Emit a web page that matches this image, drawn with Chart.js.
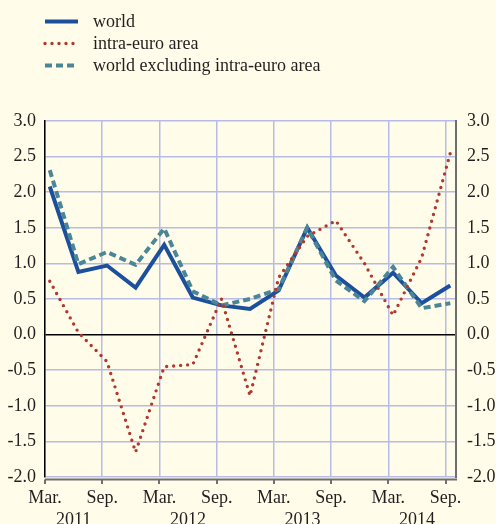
<!DOCTYPE html>
<html>
<head>
<meta charset="utf-8">
<script src="https://cdn.jsdelivr.net/npm/chart.js@4/dist/chart.umd.min.js"></script>
<style>
  html, body { margin: 0; padding: 0; background: #fffdea; }
  #wrap { width: 496px; height: 524px; }
</style>
</head>
<body>
<div id="wrap"><canvas id="chart" width="496" height="524"></canvas></div>
<script>
// quarterly observations, end-of-quarter month
const quarters = ['2011-03', '2011-06', '2011-09', '2011-12',
                  '2012-03', '2012-06', '2012-09', '2012-12',
                  '2013-03', '2013-06', '2013-09', '2013-12',
                  '2014-03', '2014-06', '2014-09'];

const world       = [2.08, 0.88, 0.97, 0.66, 1.26, 0.52, 0.41, 0.36, 0.62, 1.50, 0.83, 0.52, 0.87, 0.44, 0.69];
const intraEuro   = [0.75, 0.03, -0.38, -1.65, -0.45, -0.42, 0.50, -0.86, 0.80, 1.38, 1.60, 1.00, 0.27, 1.08, 2.55];
const worldExEuro = [2.31, 0.99, 1.16, 0.98, 1.49, 0.61, 0.41, 0.50, 0.64, 1.50, 0.76, 0.47, 0.95, 0.37, 0.44];

const xTickMonths = ['2011-03', '2011-09', '2012-03', '2012-09', '2013-03', '2013-09', '2014-03', '2014-09'];
const years = ['2011', '2012', '2013', '2014'];
const yTicks = [3.0, 2.5, 2.0, 1.5, 1.0, 0.5, 0.0, -0.5, -1.0, -1.5, -2.0];

const seriesNames = ['world', 'intra-euro area', 'world excluding intra-euro area'];

const BG = '#fffdea';
const INK = '#231f20';
const GRID = '#b7bce6';
const BLUE = '#1c4f9c';
const RED = '#b2372d';
const TEAL = '#4b8697';
const FONT = '"Liberation Serif", "DejaVu Serif", serif';
const FSIZE = 18;

// months since Jan 2011
const monthOf = s => { const [y, m] = s.split('-').map(Number); return (y - 2011) * 12 + (m - 1); };
const pts = vals => vals.map((v, i) => ({ x: monthOf(quarters[i]) + 0.5, y: v }));

const decor = {
  id: 'decor',
  beforeDraw(chart) {
    const c = chart.ctx;
    c.save();
    c.fillStyle = BG;
    c.fillRect(0, 0, chart.width, chart.height);
    c.restore();
  },
  afterDraw(chart) {
    const c = chart.ctx, a = chart.chartArea, xs = chart.scales.x;
    c.save();
    // bottom axis with down ticks
    c.strokeStyle = '#6f6f6f';
    c.lineWidth = 2;
    c.beginPath();
    c.moveTo(a.left, a.bottom + 2.5);
    c.lineTo(a.right + 1, a.bottom + 2.5);
    xTickMonths.forEach(m => {
      const px = Math.round(xs.getPixelForValue(monthOf(m)));
      c.moveTo(px, a.bottom + 2.5);
      c.lineTo(px, a.bottom + 7);
    });
    c.stroke();

    // year labels centred between Mar. and Sep.
    c.fillStyle = INK;
    c.font = FSIZE + 'px ' + FONT;
    c.textAlign = 'center';
    c.textBaseline = 'alphabetic';
    years.forEach(y => {
      const mid = (xs.getPixelForValue(monthOf(y + '-03')) + xs.getPixelForValue(monthOf(y + '-09'))) / 2;
      c.fillText(y, mid, 525);
    });

    // legend
    const rows = [27, 49, 71];
    chart.data.datasets.forEach((ds, i) => {
      const ly = rows[i] - 5.5;
      c.strokeStyle = ds.borderColor;
      c.lineWidth = ds.borderWidth;
      c.lineCap = ds.borderCapStyle || 'butt';
      c.setLineDash(ds.borderDash || []);
      c.beginPath();
      c.moveTo(45, ly);
      c.lineTo(78, ly);
      c.stroke();
      c.setLineDash([]);
      c.textAlign = 'left';
      c.fillText(seriesNames[i], 93, rows[i]);
    });
    c.restore();
  }
};

const yCommon = {
  type: 'linear',
  min: -2,
  max: 3,
  afterBuildTicks: s => { s.ticks = yTicks.map(v => ({ value: v })); },
  ticks: {
    color: INK,
    font: { family: FONT, size: FSIZE },
    callback: v => v.toFixed(1),
  },
};

new Chart(document.getElementById('chart'), {
  type: 'line',
  data: {
    datasets: [
      {
        label: seriesNames[0], data: pts(world),
        borderColor: BLUE, borderWidth: 4, borderJoinStyle: 'miter',
        pointRadius: 0, tension: 0, order: 3,
      },
      {
        label: seriesNames[1], data: pts(intraEuro),
        borderColor: RED, borderWidth: 3.4, borderDash: [0, 7], borderCapStyle: 'round',
        pointRadius: 0, tension: 0, order: 1,
      },
      {
        label: seriesNames[2], data: pts(worldExEuro),
        borderColor: TEAL, borderWidth: 4, borderDash: [7, 4],
        pointRadius: 0, tension: 0, order: 2,
      },
    ],
  },
  options: {
    responsive: false,
    animation: false,
    layout: { padding: { top: 121 } },
    plugins: { legend: { display: false }, tooltip: { enabled: false } },
    scales: {
      x: {
        type: 'linear',
        min: 2,
        max: 45.1,
        afterBuildTicks: s => { s.ticks = xTickMonths.map(m => ({ value: monthOf(m) })); },
        afterFit: s => { s.height = 47; },
        grid: { color: GRID, lineWidth: 1.5, drawTicks: false },
        border: { display: false },
        ticks: {
          color: INK,
          font: { family: FONT, size: FSIZE },
          padding: 10,
          autoSkip: false,
          maxRotation: 0,
          callback: v => (v % 12 === 2 ? 'Mar.' : 'Sep.'),
        },
      },
      y: {
        ...yCommon,
        position: 'left',
        afterFit: s => { s.width = 45; },
        grid: {
          color: ctx => (ctx.tick && ctx.tick.value === 0 ? '#000000' : GRID),
          lineWidth: 1.5,
          drawTicks: false,
        },
        border: { color: '#000000', width: 1.5 },
        ticks: { ...yCommon.ticks, padding: 9 },
      },
      y2: {
        ...yCommon,
        position: 'right',
        afterFit: s => { s.width = 40; },
        grid: { display: false, drawTicks: false },
        border: { color: '#6f6f6f', width: 2 },
        ticks: { ...yCommon.ticks, padding: 11 },
      },
    },
  },
  plugins: [decor],
});
</script>
</body>
</html>
